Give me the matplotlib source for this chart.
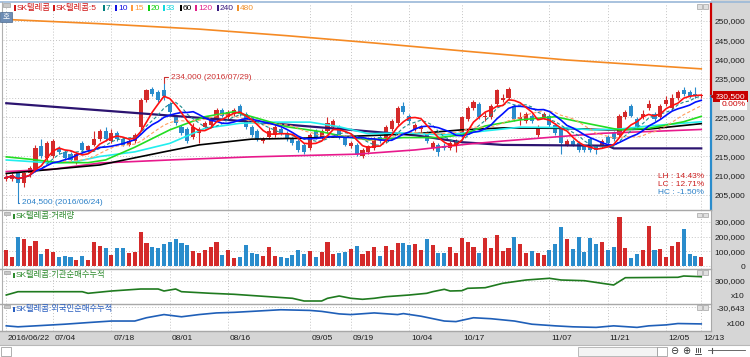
import numpy as np
import pandas as pd
import matplotlib
matplotlib.use('Agg')
import matplotlib.pyplot as plt
from matplotlib.patches import Rectangle
from matplotlib.transforms import blended_transform_factory as btf

plt.rcParams['font.family'] = ['Liberation Sans', 'Noto Sans CJK KR', 'DejaVu Sans']
FS = 6.0

# ---------------- data ----------------
holidays = ['2016-08-15', '2016-09-14', '2016-09-15', '2016-09-16', '2016-10-03']
dates = [d for d in pd.bdate_range('2016-06-22', '2016-12-13')
         if d.strftime('%Y-%m-%d') not in holidays]

# prices in thousand won
opens = [209.0, 209.0, 210.5, 208.0, 210.5, 211.5, 217.5, 214.5, 215.0, 217.0,
         216.0, 215.5, 213.5, 218.5, 216.5, 218.0, 219.5, 221.5, 219.0, 221.0,
         219.5, 218.0, 219.0, 222.5, 229.5, 232.5, 231.5, 232.0, 228.5, 225.0,
         222.5, 222.0, 220.0, 221.0, 222.5, 223.0, 224.5, 227.0, 225.0, 226.0,
         228.0, 226.0, 222.5, 221.5, 219.0, 220.0, 220.5, 222.0, 221.0, 219.5,
         219.0, 218.0, 217.0, 221.5, 220.0, 221.5, 222.5, 222.5, 220.0, 217.5,
         218.0, 215.0, 216.0, 217.0, 220.0, 219.0, 222.0, 223.5, 228.0, 225.5,
         222.0, 222.0, 221.0, 217.0, 218.0, 217.5, 217.0, 218.0, 220.5, 224.5,
         227.5, 228.5, 225.0, 225.0, 228.5, 229.5, 230.0, 228.0, 224.5, 224.0,
         225.5, 220.5, 225.0, 225.5, 223.0, 222.0, 218.0, 219.0, 218.5, 217.5,
         219.5, 217.5, 217.5, 220.0, 221.0, 220.5, 225.0, 228.0, 224.5, 225.0,
         227.5, 226.0, 225.0, 228.5, 227.5, 230.0, 232.0, 231.5, 231.0, 230.5]
highs = [210.5, 210.5, 211.0, 211.0, 212.5, 218.0, 219.5, 219.0, 219.5, 217.5,
         216.5, 216.0, 216.0, 219.0, 218.0, 221.5, 222.0, 222.5, 222.0, 221.5,
         220.0, 219.5, 221.0, 230.0, 232.5, 233.0, 232.0, 234.0, 229.0, 225.5,
         223.0, 222.5, 223.5, 222.5, 224.0, 225.0, 227.5, 227.5, 227.0, 227.5,
         228.5, 226.5, 223.0, 222.0, 220.0, 222.5, 223.0, 222.5, 221.5, 220.0,
         219.5, 218.5, 221.0, 222.0, 222.0, 225.0, 224.5, 223.0, 220.5, 219.0,
         218.5, 217.0, 218.0, 220.0, 220.5, 223.0, 224.5, 228.0, 229.0, 226.0,
         223.5, 223.0, 221.5, 219.0, 218.5, 218.5, 219.0, 219.5, 225.5, 228.0,
         229.5, 229.0, 226.5, 228.5, 232.5, 231.0, 233.0, 228.5, 226.5, 226.5,
         226.0, 223.0, 226.5, 226.0, 223.5, 222.5, 219.5, 219.5, 219.0, 218.0,
         220.0, 218.0, 219.5, 220.5, 221.5, 226.0, 227.0, 228.5, 225.0, 227.0,
         229.5, 226.5, 228.5, 230.5, 231.0, 232.0, 233.0, 232.0, 233.0, 231.0]
lows = [208.5, 208.5, 204.5, 207.0, 209.5, 211.0, 214.5, 213.5, 214.5, 215.5,
        214.0, 213.5, 213.0, 216.0, 216.0, 217.5, 219.0, 219.0, 218.5, 219.0,
        217.5, 217.5, 218.5, 221.5, 229.0, 230.5, 229.0, 229.5, 226.0, 223.0,
        220.5, 218.5, 219.5, 218.5, 222.0, 222.5, 224.0, 225.0, 224.5, 225.5,
        225.5, 222.0, 220.0, 219.0, 218.5, 219.5, 220.0, 220.5, 219.0, 218.0,
        216.0, 215.5, 216.5, 219.5, 219.5, 221.0, 222.0, 219.5, 217.5, 217.0,
        215.0, 214.5, 215.5, 216.5, 218.5, 218.5, 221.5, 223.0, 226.0, 223.5,
        221.5, 221.0, 218.5, 216.5, 215.0, 216.5, 216.5, 216.0, 220.0, 224.0,
        227.0, 224.5, 224.0, 224.5, 228.0, 229.0, 229.5, 224.0, 223.0, 223.5,
        223.5, 220.0, 224.5, 222.5, 220.5, 215.5, 217.5, 217.5, 216.0, 216.0,
        216.0, 215.5, 217.0, 218.0, 219.0, 220.0, 224.5, 225.0, 222.0, 224.5,
        227.0, 224.0, 224.5, 228.0, 227.0, 229.5, 230.5, 230.0, 230.0, 230.0]
closes = [209.5, 210.0, 208.0, 210.5, 212.0, 217.0, 215.0, 218.5, 219.0, 216.0,
          214.5, 214.0, 215.5, 216.5, 217.5, 219.5, 221.5, 219.5, 221.0, 219.5,
          218.0, 219.0, 220.5, 229.5, 232.0, 231.0, 229.5, 230.5, 226.5, 223.5,
          221.0, 219.0, 222.5, 222.0, 223.5, 224.5, 227.0, 225.5, 226.5, 227.0,
          226.0, 222.5, 220.5, 219.5, 219.5, 221.5, 222.5, 221.0, 219.5, 218.5,
          216.5, 216.0, 220.5, 220.0, 221.5, 223.5, 224.0, 220.0, 218.0, 218.5,
          215.5, 216.5, 217.5, 219.5, 219.0, 222.5, 224.0, 227.5, 226.5, 224.0,
          223.0, 222.5, 219.0, 218.5, 216.0, 217.0, 218.5, 219.0, 225.0, 227.5,
          229.0, 225.0, 225.5, 228.0, 232.0, 230.0, 232.5, 224.5, 225.0, 226.0,
          224.0, 222.5, 226.0, 223.0, 221.0, 218.5, 219.0, 218.0, 216.5, 216.5,
          216.5, 216.5, 219.0, 218.5, 219.5, 225.5, 226.5, 225.5, 222.5, 226.0,
          228.5, 224.5, 228.0, 229.5, 230.0, 231.5, 231.0, 230.5, 230.5, 230.5]
# volume in thousand shares
volumes = [110, 65, 199, 181, 139, 170, 83, 117, 94, 61,
           70, 65, 43, 72, 43, 161, 139, 121, 79, 121,
           121, 90, 97, 232, 157, 132, 121, 148, 165, 183,
           157, 143, 105, 90, 110, 130, 161, 79, 112, 59,
           65, 143, 88, 83, 70, 128, 72, 65, 59, 77,
           110, 83, 103, 65, 94, 165, 81, 90, 94, 117,
           139, 81, 103, 128, 70, 139, 108, 154, 154, 143,
           148, 110, 181, 143, 88, 92, 128, 88, 192, 161,
           128, 92, 192, 121, 210, 103, 121, 199, 148, 88,
           103, 88, 77, 108, 148, 265, 181, 117, 199, 99,
           192, 150, 161, 110, 128, 332, 121, 55, 83, 110,
           272, 108, 117, 65, 139, 161, 248, 81, 72, 60]

# long moving averages (bar index, won)
ma20_idx = [0, 4, 9, 14, 17, 22, 28, 34, 39, 43, 48, 54, 58, 62, 68, 74, 78, 82, 88, 94, 99, 105, 110, 116, 119]
ma20_val = [214800, 214200, 213300, 213300, 214000, 217300, 221800, 225200, 226500, 224800, 222600, 221300,
            220000, 219200, 219800, 219800, 220500, 222800, 224400, 225200, 223600, 221800, 222200, 223900, 225300]
ma33_idx = [0, 8, 12, 16, 22, 28, 34, 40, 46, 52, 57, 62, 68, 75, 80, 88, 95, 100, 105, 110, 119]
ma33_val = [214000, 213200, 213600, 214900, 216100, 218300, 222200, 223500, 223800, 223800, 222600, 220800,
            221000, 220500, 221200, 222500, 222400, 221800, 222000, 222800, 223900]
ma60_idx = [0, 16, 27, 33, 42, 50, 62, 70, 78, 85, 95, 103, 110, 119]
ma60_val = [210500, 212700, 216100, 217900, 219400, 219600, 220300, 220800, 221800, 222300, 222200, 221800,
            222000, 223400]
ma120_idx = [0, 8, 16, 28, 42, 60, 70, 79, 85, 96, 102, 119]
ma120_val = [211000, 211600, 213200, 214000, 214800, 215500, 216600, 218100, 218900, 220200, 220900, 221900]
ma240_idx = [0, 28, 42, 59, 70, 78, 85, 103, 104, 119]
ma240_val = [228700, 225500, 223900, 221800, 220400, 218600, 217900, 217700, 217000, 217000]
ma480_idx = [0, 16, 33, 48, 63, 80, 96, 119]
ma480_val = [250400, 249300, 247900, 246200, 244300, 242000, 239900, 237600]

# cumulative net buying (institutions, x10 ; foreigners, x100)
inst_idx = [0, 2, 13, 14, 18, 23, 26, 27, 29, 30, 35, 39, 45, 49, 51, 54, 55, 57, 59, 61, 63, 65, 69, 72,
            73, 75, 76, 78, 79, 82, 85, 89, 93, 95, 99, 102, 104, 106, 115, 116, 119]
inst_val = [10000, 76000, 76000, 44000, 90000, 130000, 130000, 90000, 130000, 76000, 44000, 24000, -24000,
            -56000, -110000, -110000, -56000, -10000, -56000, -76000, -56000, -24000, 10000, 44000, 76000,
            124000, 90000, 96000, 144000, 156000, 244000, 310000, 344000, 310000, 296000, 244000, 210000,
            356000, 364000, 390000, 376000]
frgn_idx = [0, 2, 5, 10, 14, 18, 22, 24, 27, 30, 33, 36, 39, 42, 47, 52, 54, 57, 59, 63, 67, 68, 71, 75,
            77, 80, 83, 87, 90, 94, 97, 101, 104, 108, 110, 113, 115, 119]
frgn_val = [-49800, -50800, -49800, -48100, -46400, -44800, -44800, -41400, -38100, -40400, -38100, -36400,
            -35800, -34800, -33100, -33800, -34800, -37400, -38100, -36400, -38100, -37100, -39800, -44800,
            -45400, -41400, -42400, -44800, -48100, -49800, -50800, -51400, -49800, -51400, -49800, -48800,
            -47400, -47800]

tick_dates = ['2016-06-22', '2016-07-04', '2016-07-18', '2016-08-01', '2016-08-16', '2016-09-05',
              '2016-09-19', '2016-10-04', '2016-10-17', '2016-11-07', '2016-11-21', '2016-12-05',
              '2016-12-13']
tick_labels = ['2016/06/22', '07/04', '07/18', '08/01', '08/16', '09/05', '09/19', '10/04', '10/17',
               '11/07', '11/21', '12/05', '12/13']

price_ticks = [205000, 210000, 215000, 220000, 225000, 230000, 235000, 240000, 245000, 250000]
volume_ticks = [0, 100000, 200000, 300000]

# ---------------- derived ----------------
O = np.array(opens) * 1000
Hh = np.array(highs) * 1000
L = np.array(lows) * 1000
C = np.array(closes) * 1000
V = np.array(volumes) * 1000
n = len(C)
x = np.arange(n)
date_str = [d.strftime('%Y-%m-%d') for d in dates]
tick_pos = [date_str.index(d) for d in tick_dates]

RED = '#d42a2a'
BLUE = '#2a8ccc'
prev = np.concatenate([[C[0]], C[:-1]])
up = (C > O) | ((C == O) & (C >= prev))
cols = np.where(up, RED, BLUE)

W, H = 750, 357
fig = plt.figure(figsize=(7.5, 3.57), dpi=100)
fig.patch.set_facecolor('white')


def add_ax(x0, y0, x1, y1):
    return fig.add_axes([x0 / W, 1 - y1 / H, (x1 - x0) / W, (y1 - y0) / H])


def frect(x0, y0, x1, y1, **kw):
    kw.setdefault('zorder', -1)
    fig.patches.append(Rectangle((x0 / W, 1 - y1 / H), (x1 - x0) / W, (y1 - y0) / H,
                                 transform=fig.transFigure, **kw))


def fline(x0, y0, x1, y1, **kw):
    fig.add_artist(plt.Line2D([x0 / W, x1 / W], [1 - y0 / H, 1 - y1 / H], transform=fig.transFigure, **kw))


def ftext(xp, yp, s, **kw):
    fig.text(xp / W, 1 - yp / H, s, **kw)


# background strips
frect(711, 0, 750, 332, facecolor='#d6d6d6', edgecolor='none')
frect(0, 331, 750, 345, facecolor='#d6d6d6', edgecolor='none')

XLIM = (-0.565, 120.67)
GRID = '#c4c4c4'
PAD = 24.5


def style(ax, ylim, ticks, labels):
    ax.set_xlim(*XLIM)
    ax.set_ylim(*ylim)
    ax.set_xticks([])
    for s in ax.spines.values():
        s.set_visible(False)
    ax.yaxis.tick_right()
    ax.set_yticks(ticks, labels)
    ax.tick_params(axis='y', length=0, pad=PAD, labelsize=FS, labelcolor='#1e1e1e')
    for t in ax.get_yticklabels():
        t.set_ha('right')
    ax.grid(axis='y', linestyle=(0, (1, 2)), color=GRID, lw=0.7)
    ax.set_axisbelow(True)
    ax.vlines(tick_pos, ylim[0], ylim[1], colors=GRID, linestyles=(0, (1, 2)), lw=0.7, zorder=0)


# ---------------- price panel ----------------
PLIM = (201036, 254663)
axp = add_ax(3, 3, 711, 210)
last = C[-1]
# the tick label hidden behind the current-price box is left blank
price_labels = ['' if abs(v - last) < 2600 else f'{v:,}' for v in price_ticks]
style(axp, PLIM, price_ticks, price_labels)

s = pd.Series(C)
ma5 = s.rolling(5, min_periods=1).mean()
ma7 = s.rolling(7, min_periods=1).mean()
ma10 = s.rolling(10, min_periods=1).mean()
ma15 = s.rolling(15, min_periods=1).mean()

axp.plot(ma480_idx, ma480_val, color='#f58a24', lw=1.2, zorder=3)
axp.plot(ma240_idx, ma240_val, color='#2c1470', lw=1.6, zorder=3)
axp.plot(ma120_idx, ma120_val, color='#e8198c', lw=1.2, zorder=3)
axp.plot(ma60_idx, ma60_val, color='#000000', lw=1.2, zorder=3)
axp.plot(ma33_idx, ma33_val, color='#22eeee', lw=1.2, zorder=3)
axp.plot(ma20_idx, ma20_val, color='#22dd22', lw=1.2, zorder=3)

axp.vlines(x, L, Hh, colors=cols, lw=0.8, zorder=2)
axp.bar(x, np.maximum(np.abs(C - O), 200), bottom=np.minimum(O, C), width=0.7,
        color=cols, linewidth=0, zorder=2)

axp.plot(x, ma15, color='#ffa060', lw=0.8, ls=(0, (3, 2)), zorder=4)
axp.plot(x, ma7, color='#1e8c8c', lw=0.8, ls=(0, (3, 2)), zorder=4)
axp.plot(x, ma10, color='#0010ff', lw=1.2, zorder=4)
axp.plot(x, ma5, color='#ff1010', lw=1.2, zorder=5)

# high / low markers
hi_i = int(np.argmax(Hh))
lo_i = int(np.argmin(L))
axp.annotate(f'{Hh[hi_i]:,.0f} ({dates[hi_i].strftime("%Y/%m/%d")})', xy=(hi_i, Hh[hi_i]),
             xytext=(5, 4), textcoords='offset points', ha='left', va='center', fontsize=FS,
             color='#cc3030',
             arrowprops=dict(arrowstyle='-', color='#cc3030', lw=0.8, shrinkA=0, shrinkB=0,
                             connectionstyle='angle,angleA=0,angleB=90,rad=0'))
axp.annotate(f'{L[lo_i]:,.0f} ({dates[lo_i].strftime("%Y/%m/%d")})', xy=(lo_i, L[lo_i]),
             xytext=(3, -4.5), textcoords='offset points', ha='left', va='center', fontsize=FS,
             color='#2a80c8',
             arrowprops=dict(arrowstyle='-', color='#2a80c8', lw=0.8, shrinkA=0, shrinkB=0,
                             connectionstyle='angle,angleA=0,angleB=90,rad=0'))

# LH / LC / HC
lh = (Hh.max() / L.min() - 1) * 100
lc = (C[-1] / L.min() - 1) * 100
hc = (C[-1] / Hh.max() - 1) * 100
for k, (lab, val, col) in enumerate([('LH', lh, '#cc2020'), ('LC', lc, '#cc2020'), ('HC', hc, '#2a80c8')]):
    axp.text(0.990, (210 - 177 - 8 * k) / 207, f'{lab} : {val:.2f}%', transform=axp.transAxes,
             ha='right', va='center', fontsize=FS, color=col)

# current price marker on the right edge
tb = btf(axp.transAxes, axp.transData)
chg = (C[-1] / C[-2] - 1) * 100
axp.plot([1, 1], [last, PLIM[1]], transform=tb, color='#cc0000', lw=1.6, clip_on=False, zorder=6)
axp.plot([1, 1], [PLIM[0], last], transform=tb, color='#2a8ccc', lw=1.6, clip_on=False, zorder=6)
axp.text(1.0 + 34.5 / 708, last, f'{last:,.0f}', transform=tb, ha='right', va='center', fontsize=FS,
         color='white', clip_on=False, zorder=7,
         bbox=dict(boxstyle='square,pad=0.25', fc='#c80000', ec='none'))
axp.plot([1.0 + 1.5 / 708], [last], transform=tb, marker='<', ms=3.5, color='#c80000', clip_on=False, zorder=7)
axp.text(1.0 + 34.5 / 708, last - 8.5 * 259, f'{chg:.2f}%', transform=tb, ha='right', va='center',
         fontsize=FS, color='#cc0000', clip_on=False, zorder=7,
         bbox=dict(boxstyle='square,pad=0.2', fc='white', ec='none'))

# ---------------- volume panel ----------------
axv = add_ax(3, 210, 711, 269)
style(axv, (-16667, 376667), volume_ticks, [f'{v:,}' for v in volume_ticks])
axv.bar(x, V, width=0.7, color=cols, linewidth=0, zorder=2)

# ---------------- institution cumulative ----------------
axi = add_ax(3, 269, 711, 304)
style(axi, (-170000, 530000), [300000], ['300,000'])
axi.plot(inst_idx, inst_val, color='#1f7a1f', lw=1.2, zorder=3)
axi.text(1.0 + 34 / 708, -30000, 'x10', transform=btf(axi.transAxes, axi.transData), ha='right',
         va='center', fontsize=FS, color='#1e1e1e', clip_on=False)

# ---------------- foreigner cumulative ----------------
axf = add_ax(3, 304, 711, 331)
style(axf, (-55143, -27143), [-30643], ['-30,643'])
axf.plot(frgn_idx, frgn_val, color='#1f5fb8', lw=1.2, zorder=3)
axf.text(1.0 + 34 / 708, -48143, 'x100', transform=btf(axf.transAxes, axf.transData), ha='right',
         va='center', fontsize=FS, color='#1e1e1e', clip_on=False)

# date labels
td = btf(axf.transData, fig.transFigure)
for p, lab in zip(tick_pos, tick_labels):
    axf.text(p + 0.3, 1 - 338.5 / H, lab, transform=td, ha='left', va='center', fontsize=FS,
             color='#1e1e1e', clip_on=False)

# ---------------- frame / decorations ----------------
fline(0, 1.5, 750, 1.5, color='#9ab8d8', lw=1.2)
fline(2, 2, 2, 331, color='#b0b0b0', lw=0.8)
for yy in (210, 269, 304, 331):
    fline(0, yy, 711, yy, color='#a8a8a8', lw=1.0)
fline(711, 210, 711, 331, color='#a8a8a8', lw=0.8)
fline(0, 345, 750, 345, color='#b8b8b8', lw=0.8)

# legend row
frect(3, 3, 10, 7, facecolor='#c8c8c8', edgecolor='#909090', lw=0.4, zorder=5)
legend_items = [('SK텔레콤', '#d01818'), ('SK텔레콤:5', '#d01818'), ('7', '#008080'), ('10', '#1010e0'),
                ('15', '#ff9a3c'), ('20', '#10d010'), ('33', '#10d8e0'), ('60', '#000000'),
                ('120', '#e0208a'), ('240', '#3a1a80'), ('480', '#f0902a')]
legend_x = [17, 56, 106, 118, 134, 151, 166, 183, 198, 220, 240]
for (lab, col), xp in zip(legend_items, legend_x):
    frect(xp - 3, 5.5, xp - 1, 11, facecolor=col, edgecolor='none', zorder=5)
    ftext(xp, 8.3, lab, ha='left', va='center', fontsize=FS, color=col)

# "호" button
frect(0, 12, 12, 22, facecolor='#6d8db5', edgecolor='#4a6a90', lw=0.5, zorder=5)
ftext(6, 17, '호', ha='center', va='center', fontsize=5.5, color='white', zorder=6)

# panel labels
panel_labels = [('SK텔레콤:거래량', '#2e8b2e', 216.5), ('SK텔레콤:기관순매수누적', '#2e8b2e', 275.5),
                ('SK텔레콤:외국인순매수누적', '#2a5fc0', 309.5)]
for lab, col, yp in panel_labels:
    frect(4, yp - 4.5, 10, yp - 2, facecolor='#c8c8c8', edgecolor='#909090', lw=0.4, zorder=5)
    frect(12.5, yp - 2.5, 14.5, yp + 2.5, facecolor=col, edgecolor='none', zorder=5)
    ftext(16, yp, lab, ha='left', va='center', fontsize=FS, color=col)

# small window buttons
for yp in (4, 213, 270, 305):
    frect(697, yp, 701.5, yp + 4.5, facecolor='#e0e0e0', edgecolor='#909090', lw=0.4, zorder=5)
    frect(703, yp, 707.5, yp + 4.5, facecolor='#e0e0e0', edgecolor='#909090', lw=0.4, zorder=5)

# bottom scroll row
frect(1, 347, 11, 356, facecolor='white', edgecolor='#909090', lw=0.5, zorder=5)
ftext(6, 351.5, '◀', ha='center', va='center', fontsize=4.5, color='#202020', family='DejaVu Sans')
frect(578, 347, 657, 356, facecolor='#f4f4f4', edgecolor='#a0a0a0', lw=0.5, zorder=5)
frect(657, 347, 667, 356, facecolor='white', edgecolor='#909090', lw=0.5, zorder=5)
ftext(662, 351.5, '▶', ha='center', va='center', fontsize=4.5, color='#202020', family='DejaVu Sans')
ftext(674, 351.5, '⊖', ha='center', va='center', fontsize=7, color='#303030', family='DejaVu Sans')
ftext(686, 351.5, '⊕', ha='center', va='center', fontsize=7, color='#303030', family='DejaVu Sans')
# column-width icon (no installed font has the glyph, so drawn as strokes)
for xx in (695.5, 697.5, 699.5):
    fline(xx, 347.5, xx, 351.5, color='#303030', lw=0.6)
fline(694.5, 354, 700.5, 354, color='#303030', lw=0.6)
fline(708, 350, 745, 350, color='#505050', lw=0.6)
fline(712, 347.5, 712, 353, color='#505050', lw=0.8)

fig.savefig('out.png', dpi=100, facecolor='white')
